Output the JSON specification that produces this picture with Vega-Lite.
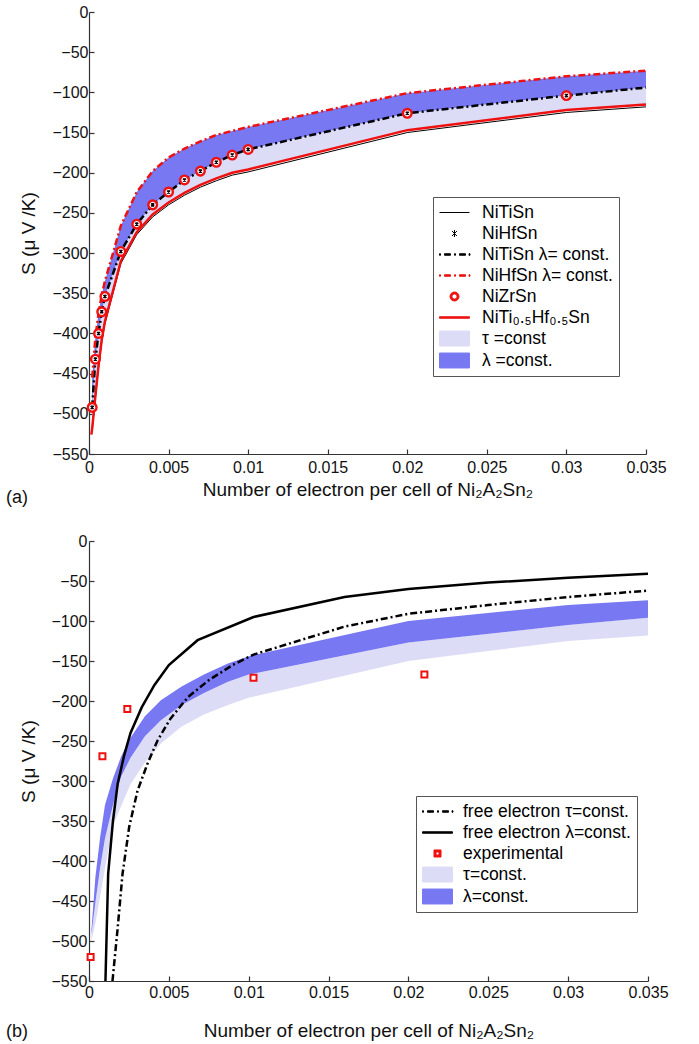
{
  "$schema": "https://vega.github.io/schema/vega-lite/v6.json",
  "background": "white",
  "padding": {"top": 4, "left": 5, "right": 5, "bottom": 2},
  "datasets": {
    "aBand": [
      {"s":"τ =const","x":0.0002,"y":-518,"y2":-492},{"s":"λ =const.","x":0.0002,"y":-492,"y2":-455},
      {"s":"τ =const","x":0.0004,"y":-478,"y2":-432},{"s":"λ =const.","x":0.0004,"y":-432,"y2":-405},
      {"s":"τ =const","x":0.0006,"y":-440,"y2":-400},{"s":"λ =const.","x":0.0006,"y":-400,"y2":-375},
      {"s":"τ =const","x":0.0008,"y":-408,"y2":-373},{"s":"λ =const.","x":0.0008,"y":-373,"y2":-352},
      {"s":"τ =const","x":0.001,"y":-385,"y2":-354},{"s":"λ =const.","x":0.001,"y":-354,"y2":-335},
      {"s":"τ =const","x":0.002,"y":-310,"y2":-298},{"s":"λ =const.","x":0.002,"y":-298,"y2":-266},
      {"s":"τ =const","x":0.003,"y":-274,"y2":-264},{"s":"λ =const.","x":0.003,"y":-264,"y2":-224},
      {"s":"τ =const","x":0.004,"y":-252,"y2":-240},{"s":"λ =const.","x":0.004,"y":-240,"y2":-198},
      {"s":"τ =const","x":0.005,"y":-237,"y2":-224},{"s":"λ =const.","x":0.005,"y":-224,"y2":-181},
      {"s":"τ =const","x":0.006,"y":-225,"y2":-209},{"s":"λ =const.","x":0.006,"y":-209,"y2":-170},
      {"s":"τ =const","x":0.007,"y":-215,"y2":-198},{"s":"λ =const.","x":0.007,"y":-198,"y2":-161},
      {"s":"τ =const","x":0.008,"y":-207,"y2":-187},{"s":"λ =const.","x":0.008,"y":-187,"y2":-153},
      {"s":"τ =const","x":0.009,"y":-200,"y2":-178},{"s":"λ =const.","x":0.009,"y":-178,"y2":-148},
      {"s":"τ =const","x":0.01,"y":-196,"y2":-171},{"s":"λ =const.","x":0.01,"y":-171,"y2":-143},
      {"s":"τ =const","x":0.02,"y":-147,"y2":-126},{"s":"λ =const.","x":0.02,"y":-126,"y2":-101},
      {"s":"τ =const","x":0.03,"y":-122,"y2":-104},{"s":"λ =const.","x":0.03,"y":-104,"y2":-80},
      {"s":"τ =const","x":0.035,"y":-115,"y2":-94},{"s":"λ =const.","x":0.035,"y":-94,"y2":-73}
    ],
    "aLine": [
      {"s":"NiTi₀.₅Hf₀.₅Sn","x":0.00015,"y":-526},{"s":"NiTi₀.₅Hf₀.₅Sn","x":0.0002,"y":-518},{"s":"NiTi₀.₅Hf₀.₅Sn","x":0.0004,"y":-478},{"s":"NiTi₀.₅Hf₀.₅Sn","x":0.0006,"y":-440},{"s":"NiTi₀.₅Hf₀.₅Sn","x":0.0008,"y":-408},{"s":"NiTi₀.₅Hf₀.₅Sn","x":0.001,"y":-385},{"s":"NiTi₀.₅Hf₀.₅Sn","x":0.002,"y":-310},{"s":"NiTi₀.₅Hf₀.₅Sn","x":0.003,"y":-274},{"s":"NiTi₀.₅Hf₀.₅Sn","x":0.004,"y":-252},{"s":"NiTi₀.₅Hf₀.₅Sn","x":0.005,"y":-237},{"s":"NiTi₀.₅Hf₀.₅Sn","x":0.006,"y":-225},{"s":"NiTi₀.₅Hf₀.₅Sn","x":0.007,"y":-215},{"s":"NiTi₀.₅Hf₀.₅Sn","x":0.008,"y":-207},{"s":"NiTi₀.₅Hf₀.₅Sn","x":0.009,"y":-200},{"s":"NiTi₀.₅Hf₀.₅Sn","x":0.01,"y":-196},{"s":"NiTi₀.₅Hf₀.₅Sn","x":0.02,"y":-147},{"s":"NiTi₀.₅Hf₀.₅Sn","x":0.03,"y":-122},{"s":"NiTi₀.₅Hf₀.₅Sn","x":0.035,"y":-115},
      {"s":"NiTiSn","x":0.0002,"y":-521},{"s":"NiTiSn","x":0.0004,"y":-481},{"s":"NiTiSn","x":0.0006,"y":-443},{"s":"NiTiSn","x":0.0008,"y":-411},{"s":"NiTiSn","x":0.001,"y":-388},{"s":"NiTiSn","x":0.002,"y":-313},{"s":"NiTiSn","x":0.003,"y":-277},{"s":"NiTiSn","x":0.004,"y":-255},{"s":"NiTiSn","x":0.005,"y":-240},{"s":"NiTiSn","x":0.006,"y":-228},{"s":"NiTiSn","x":0.007,"y":-218},{"s":"NiTiSn","x":0.008,"y":-210},{"s":"NiTiSn","x":0.009,"y":-203},{"s":"NiTiSn","x":0.01,"y":-199},{"s":"NiTiSn","x":0.02,"y":-150},{"s":"NiTiSn","x":0.03,"y":-125},{"s":"NiTiSn","x":0.035,"y":-118},
      {"s":"NiTiSn λ= const.","x":0.0002,"y":-492},{"s":"NiTiSn λ= const.","x":0.0004,"y":-432},{"s":"NiTiSn λ= const.","x":0.0006,"y":-400},{"s":"NiTiSn λ= const.","x":0.0008,"y":-373},{"s":"NiTiSn λ= const.","x":0.001,"y":-354},{"s":"NiTiSn λ= const.","x":0.002,"y":-298},{"s":"NiTiSn λ= const.","x":0.003,"y":-264},{"s":"NiTiSn λ= const.","x":0.004,"y":-240},{"s":"NiTiSn λ= const.","x":0.005,"y":-224},{"s":"NiTiSn λ= const.","x":0.006,"y":-209},{"s":"NiTiSn λ= const.","x":0.007,"y":-198},{"s":"NiTiSn λ= const.","x":0.008,"y":-187},{"s":"NiTiSn λ= const.","x":0.009,"y":-178},{"s":"NiTiSn λ= const.","x":0.01,"y":-171},{"s":"NiTiSn λ= const.","x":0.02,"y":-126},{"s":"NiTiSn λ= const.","x":0.03,"y":-104},{"s":"NiTiSn λ= const.","x":0.035,"y":-94},
      {"s":"NiHfSn λ= const.","x":0.0002,"y":-455},{"s":"NiHfSn λ= const.","x":0.0004,"y":-405},{"s":"NiHfSn λ= const.","x":0.0006,"y":-375},{"s":"NiHfSn λ= const.","x":0.0008,"y":-352},{"s":"NiHfSn λ= const.","x":0.001,"y":-335},{"s":"NiHfSn λ= const.","x":0.002,"y":-266},{"s":"NiHfSn λ= const.","x":0.003,"y":-224},{"s":"NiHfSn λ= const.","x":0.004,"y":-198},{"s":"NiHfSn λ= const.","x":0.005,"y":-181},{"s":"NiHfSn λ= const.","x":0.006,"y":-170},{"s":"NiHfSn λ= const.","x":0.007,"y":-161},{"s":"NiHfSn λ= const.","x":0.008,"y":-153},{"s":"NiHfSn λ= const.","x":0.009,"y":-148},{"s":"NiHfSn λ= const.","x":0.01,"y":-143},{"s":"NiHfSn λ= const.","x":0.02,"y":-101},{"s":"NiHfSn λ= const.","x":0.03,"y":-80},{"s":"NiHfSn λ= const.","x":0.035,"y":-73}
    ],
    "aPts": [
      {"s":"NiZrSn","x":0.0002,"y":-492},{"s":"NiZrSn","x":0.0004,"y":-432},{"s":"NiZrSn","x":0.0006,"y":-400},{"s":"NiZrSn","x":0.0008,"y":-373},{"s":"NiZrSn","x":0.001,"y":-354},{"s":"NiZrSn","x":0.002,"y":-298},{"s":"NiZrSn","x":0.003,"y":-264},{"s":"NiZrSn","x":0.004,"y":-240},{"s":"NiZrSn","x":0.005,"y":-224},{"s":"NiZrSn","x":0.006,"y":-209},{"s":"NiZrSn","x":0.007,"y":-198},{"s":"NiZrSn","x":0.008,"y":-187},{"s":"NiZrSn","x":0.009,"y":-178},{"s":"NiZrSn","x":0.01,"y":-171},{"s":"NiZrSn","x":0.02,"y":-126},{"s":"NiZrSn","x":0.03,"y":-104},
      {"s":"NiHfSn","x":0.0002,"y":-492},{"s":"NiHfSn","x":0.0004,"y":-432},{"s":"NiHfSn","x":0.0006,"y":-400},{"s":"NiHfSn","x":0.0008,"y":-373},{"s":"NiHfSn","x":0.001,"y":-354},{"s":"NiHfSn","x":0.002,"y":-298},{"s":"NiHfSn","x":0.003,"y":-264},{"s":"NiHfSn","x":0.004,"y":-240},{"s":"NiHfSn","x":0.005,"y":-224},{"s":"NiHfSn","x":0.006,"y":-209},{"s":"NiHfSn","x":0.007,"y":-198},{"s":"NiHfSn","x":0.008,"y":-187},{"s":"NiHfSn","x":0.009,"y":-178},{"s":"NiHfSn","x":0.01,"y":-171},{"s":"NiHfSn","x":0.02,"y":-126},{"s":"NiHfSn","x":0.03,"y":-104}
    ],
    "bBand": [
      {"s":"τ=const.","x":0.00015,"y":-500,"y2":-492},{"s":"λ=const.","x":0.00015,"y":-492,"y2":-487},
      {"s":"τ=const.","x":0.0004,"y":-478,"y2":-452},{"s":"λ=const.","x":0.0004,"y":-452,"y2":-420},
      {"s":"τ=const.","x":0.0007,"y":-444,"y2":-408},{"s":"λ=const.","x":0.0007,"y":-408,"y2":-370},
      {"s":"τ=const.","x":0.001,"y":-409,"y2":-372},{"s":"λ=const.","x":0.001,"y":-372,"y2":-330},
      {"s":"τ=const.","x":0.0015,"y":-356,"y2":-330},{"s":"λ=const.","x":0.0015,"y":-330,"y2":-297},
      {"s":"τ=const.","x":0.002,"y":-332,"y2":-295},{"s":"λ=const.","x":0.002,"y":-295,"y2":-270},
      {"s":"τ=const.","x":0.0026,"y":-304,"y2":-271},{"s":"λ=const.","x":0.0026,"y":-271,"y2":-246},
      {"s":"τ=const.","x":0.0035,"y":-277,"y2":-244},{"s":"λ=const.","x":0.0035,"y":-244,"y2":-219},
      {"s":"τ=const.","x":0.0045,"y":-253,"y2":-224},{"s":"λ=const.","x":0.0045,"y":-224,"y2":-199},
      {"s":"τ=const.","x":0.0058,"y":-232,"y2":-205},{"s":"λ=const.","x":0.0058,"y":-205,"y2":-182},
      {"s":"τ=const.","x":0.0072,"y":-217,"y2":-190},{"s":"λ=const.","x":0.0072,"y":-190,"y2":-167},
      {"s":"τ=const.","x":0.0087,"y":-205,"y2":-176},{"s":"λ=const.","x":0.0087,"y":-176,"y2":-153},
      {"s":"τ=const.","x":0.01,"y":-196,"y2":-167},{"s":"λ=const.","x":0.01,"y":-167,"y2":-144},
      {"s":"τ=const.","x":0.02,"y":-150,"y2":-127},{"s":"λ=const.","x":0.02,"y":-127,"y2":-100},
      {"s":"τ=const.","x":0.03,"y":-125,"y2":-105},{"s":"λ=const.","x":0.03,"y":-105,"y2":-80},
      {"s":"τ=const.","x":0.035,"y":-118,"y2":-96},{"s":"λ=const.","x":0.035,"y":-96,"y2":-74}
    ],
    "bLine": [
      {"s":"free electron τ=const.","x":0.00147,"y":-550},{"s":"free electron τ=const.","x":0.00178,"y":-487},{"s":"free electron τ=const.","x":0.0021,"y":-416},{"s":"free electron τ=const.","x":0.00252,"y":-357},{"s":"free electron τ=const.","x":0.00304,"y":-312},{"s":"free electron τ=const.","x":0.00367,"y":-278},{"s":"free electron τ=const.","x":0.0043,"y":-249},{"s":"free electron τ=const.","x":0.0051,"y":-222},{"s":"free electron τ=const.","x":0.0062,"y":-195},{"s":"free electron τ=const.","x":0.0075,"y":-174},{"s":"free electron τ=const.","x":0.009,"y":-155},{"s":"free electron τ=const.","x":0.0103,"y":-142},{"s":"free electron τ=const.","x":0.016,"y":-107},{"s":"free electron τ=const.","x":0.02,"y":-91},{"s":"free electron τ=const.","x":0.025,"y":-80},{"s":"free electron τ=const.","x":0.03,"y":-70},{"s":"free electron τ=const.","x":0.035,"y":-62},
      {"s":"free electron λ=const.","x":0.00103,"y":-550},{"s":"free electron λ=const.","x":0.0012,"y":-416},{"s":"free electron λ=const.","x":0.0015,"y":-350},{"s":"free electron λ=const.","x":0.0018,"y":-303},{"s":"free electron λ=const.","x":0.0022,"y":-268},{"s":"free electron λ=const.","x":0.0026,"y":-240},{"s":"free electron λ=const.","x":0.0033,"y":-208},{"s":"free electron λ=const.","x":0.0041,"y":-180},{"s":"free electron λ=const.","x":0.005,"y":-155},{"s":"free electron λ=const.","x":0.0068,"y":-124},{"s":"free electron λ=const.","x":0.0103,"y":-95},{"s":"free electron λ=const.","x":0.016,"y":-70},{"s":"free electron λ=const.","x":0.02,"y":-60},{"s":"free electron λ=const.","x":0.025,"y":-52},{"s":"free electron λ=const.","x":0.03,"y":-46},{"s":"free electron λ=const.","x":0.035,"y":-41}
    ],
    "bPts": [
      {"s":"experimental","x":0.0001,"y":-520},{"s":"experimental","x":0.00084,"y":-269},{"s":"experimental","x":0.0024,"y":-210},{"s":"experimental","x":0.0103,"y":-171},{"s":"experimental","x":0.021,"y":-167}
    ]
  },
  "concat": [
    {
      "width": 557,
      "height": 442,
      "title": {"text": "(a)", "orient": "bottom", "anchor": "start", "frame": "bounds", "offset": -10, "dx": -14},
      "encoding": {
        "x": {"field": "x", "type": "quantitative", "scale": {"domain": [0, 0.035], "nice": false, "zero": false},
          "axis": {"values": [0, 0.005, 0.01, 0.015, 0.02, 0.025, 0.03, 0.035], "format": "~g", "labelPadding": 10, "titlePadding": 5, "title": "Number of electron per cell of Ni₂A₂Sn₂"}},
        "y": {"field": "y", "type": "quantitative", "stack": null, "scale": {"domain": [-550, 0], "nice": false, "zero": false},
          "axis": {"values": [-550, -500, -450, -400, -350, -300, -250, -200, -150, -100, -50, 0], "format": "d", "labelPadding": 6, "titlePadding": 13, "title": "S (μ V /K)"}},
        "color": {"field": "s", "type": "nominal",
          "scale": {"domain": ["NiTiSn", "NiHfSn", "NiTiSn λ= const.", "NiHfSn λ= const.", "NiZrSn", "NiTi₀.₅Hf₀.₅Sn", "τ =const", "λ =const."],
                    "range": ["#000000", "#000000", "#000000", "#ee1111", "#ee1111", "#ee1111", "#dcdcf7", "#7878f2"]},
          "legend": {"orient": "none", "legendX": 344, "legendY": 185, "title": null, "symbolSize": 324, "symbolStrokeWidth": 1, "labelOffset": 24, "padding": 6, "rowPadding": 3,
            "encode": {"symbols": {"update": {
              "shape": {"signal": "['M-1,0H2.33','M0.39,-0.28L0.94,0.28M0.39,0.28L0.94,-0.28M0.667,-0.39V0.39','M-1,-0.083H-0.889V0.083H-1ZM-0.444,-0.083H0.222V0.083H-0.444ZM0.667,-0.083H0.778V0.083H0.667ZM1.222,-0.083H1.889V0.083H1.222ZM2.278,-0.083H2.389V0.083H2.278Z','M-1,-0.083H-0.889V0.083H-1ZM-0.444,-0.083H0.222V0.083H-0.444ZM0.667,-0.083H0.778V0.083H0.667ZM1.222,-0.083H1.889V0.083H1.222ZM2.278,-0.083H2.389V0.083H2.278Z','M1.167,0A0.5,0.5,0,1,1,0.167,0A0.5,0.5,0,1,1,1.167,0ZM0.947,0A0.28,0.28,0,1,0,0.387,0A0.28,0.28,0,1,0,0.947,0Z','M-1,-0.083H2.33V0.083H-1Z','M-1,-0.83H2.33V0.83H-1Z','M-1,-0.83H2.33V0.83H-1Z'][datum.index]"},
              "size": {"value": 324},
              "opacity": {"value": 1}, "fillOpacity": {"value": 1}, "strokeOpacity": {"value": 1}
            }}}}}
      },
      "layer": [
        {"data": {"name": "aBand"}, "mark": {"type": "area", "opacity": 1}, "encoding": {"y2": {"field": "y2"}}},
        {"data": {"name": "aLine"}, "transform": [{"filter": "datum.s === 'NiTiSn'"}], "mark": {"type": "line", "strokeWidth": 1}},
        {"data": {"name": "aLine"}, "transform": [{"filter": "datum.s === 'NiTi₀.₅Hf₀.₅Sn'"}], "mark": {"type": "line", "strokeWidth": 2.5}},
        {"data": {"name": "aLine"}, "transform": [{"filter": "datum.s === 'NiTiSn λ= const.' || datum.s === 'NiHfSn λ= const.'"}], "mark": {"type": "line", "strokeWidth": 2.5, "strokeDash": [7, 3, 2, 3]}},
        {"data": {"name": "aPts"}, "transform": [{"filter": "datum.s === 'NiZrSn'"}], "mark": {"type": "point", "shape": "circle", "size": 75, "strokeWidth": 2.4, "filled": false, "fill": "#ffffff", "fillOpacity": 1, "opacity": 1}},
        {"data": {"name": "aPts"}, "transform": [{"filter": "datum.s === 'NiHfSn'"}], "mark": {"type": "point", "shape": "M-1,-1L1,1M-1,1L1,-1M0,-1.2V1.2", "size": 9, "strokeWidth": 1.5, "filled": false, "opacity": 1}}
      ]
    },
    {
      "width": 559,
      "height": 440,
      "title": {"text": "(b)", "orient": "bottom", "anchor": "start", "frame": "bounds", "offset": -17, "dx": -14},
      "encoding": {
        "x": {"field": "x", "type": "quantitative", "scale": {"domain": [0, 0.035], "nice": false, "zero": false},
          "axis": {"values": [0, 0.005, 0.01, 0.015, 0.02, 0.025, 0.03, 0.035], "format": "~g", "labelPadding": 8, "titlePadding": 21, "title": "Number of electron per cell of Ni₂A₂Sn₂"}},
        "y": {"field": "y", "type": "quantitative", "stack": null, "scale": {"domain": [-550, 0], "nice": false, "zero": false},
          "axis": {"values": [-550, -500, -450, -400, -350, -300, -250, -200, -150, -100, -50, 0], "format": "d", "labelPadding": 7, "titlePadding": 12, "title": "S (μ V /K)"}},
        "color": {"field": "s", "type": "nominal",
          "scale": {"domain": ["free electron τ=const.", "free electron λ=const.", "experimental", "τ=const.", "λ=const."],
                    "range": ["#000000", "#000000", "#ee1111", "#dcdcf7", "#7878f2"]},
          "legend": {"orient": "none", "legendX": 327, "legendY": 255, "title": null, "symbolSize": 324, "symbolStrokeWidth": 1, "labelOffset": 22, "padding": 6, "rowPadding": 3,
            "encode": {"symbols": {"update": {
              "shape": {"signal": "['M-1,-0.083H-0.889V0.083H-1ZM-0.444,-0.083H0.222V0.083H-0.444ZM0.667,-0.083H0.778V0.083H0.667ZM1.222,-0.083H1.889V0.083H1.222ZM2.278,-0.083H2.389V0.083H2.278Z','M-1,-0.083H2.33V0.083H-1Z','M0.278,-0.389H1.056V0.389H0.278ZM0.5,-0.167V0.167H0.833V-0.167Z','M-1,-0.83H2.33V0.83H-1Z','M-1,-0.83H2.33V0.83H-1Z'][datum.index]"},
              "size": {"value": 324},
              "opacity": {"value": 1}, "fillOpacity": {"value": 1}, "strokeOpacity": {"value": 1}
            }}}}}
      },
      "layer": [
        {"data": {"name": "bBand"}, "mark": {"type": "area", "opacity": 1}, "encoding": {"y2": {"field": "y2"}}},
        {"data": {"name": "bLine"}, "transform": [{"filter": "datum.s === 'free electron τ=const.'"}], "mark": {"type": "line", "strokeWidth": 2.5, "strokeDash": [7, 3, 2, 3]}},
        {"data": {"name": "bLine"}, "transform": [{"filter": "datum.s === 'free electron λ=const.'"}], "mark": {"type": "line", "strokeWidth": 2.5}},
        {"data": {"name": "bPts"}, "mark": {"type": "point", "shape": "square", "size": 36, "strokeWidth": 2, "filled": false, "fill": "#ffffff", "fillOpacity": 1, "opacity": 1}}
      ]
    }
  ],
  "columns": 1,
  "spacing": 26,
  "resolve": {"scale": {"color": "independent", "x": "independent", "y": "independent"}, "legend": {"color": "independent"}, "axis": {"x": "independent", "y": "independent"}},
  "config": {
    "font": "Liberation Sans",
    "view": {"stroke": null},
    "axis": {"grid": false, "domainColor": "#333333", "domainWidth": 1.2, "tickColor": "#333333", "tickWidth": 1.2, "tickSize": -5, "labelFontSize": 16, "labelColor": "#111111", "labelFlush": false, "labelOverlap": false, "titleFontSize": 19, "titleFontWeight": "normal", "titleColor": "#111111"},
    "legend": {"labelFontSize": 17.5, "labelLimit": 300, "labelColor": "#000000", "strokeColor": "#555555", "fillColor": "#ffffff", "cornerRadius": 0},
    "title": {"fontSize": 18, "fontWeight": "normal", "color": "#111111"}
  }
}
